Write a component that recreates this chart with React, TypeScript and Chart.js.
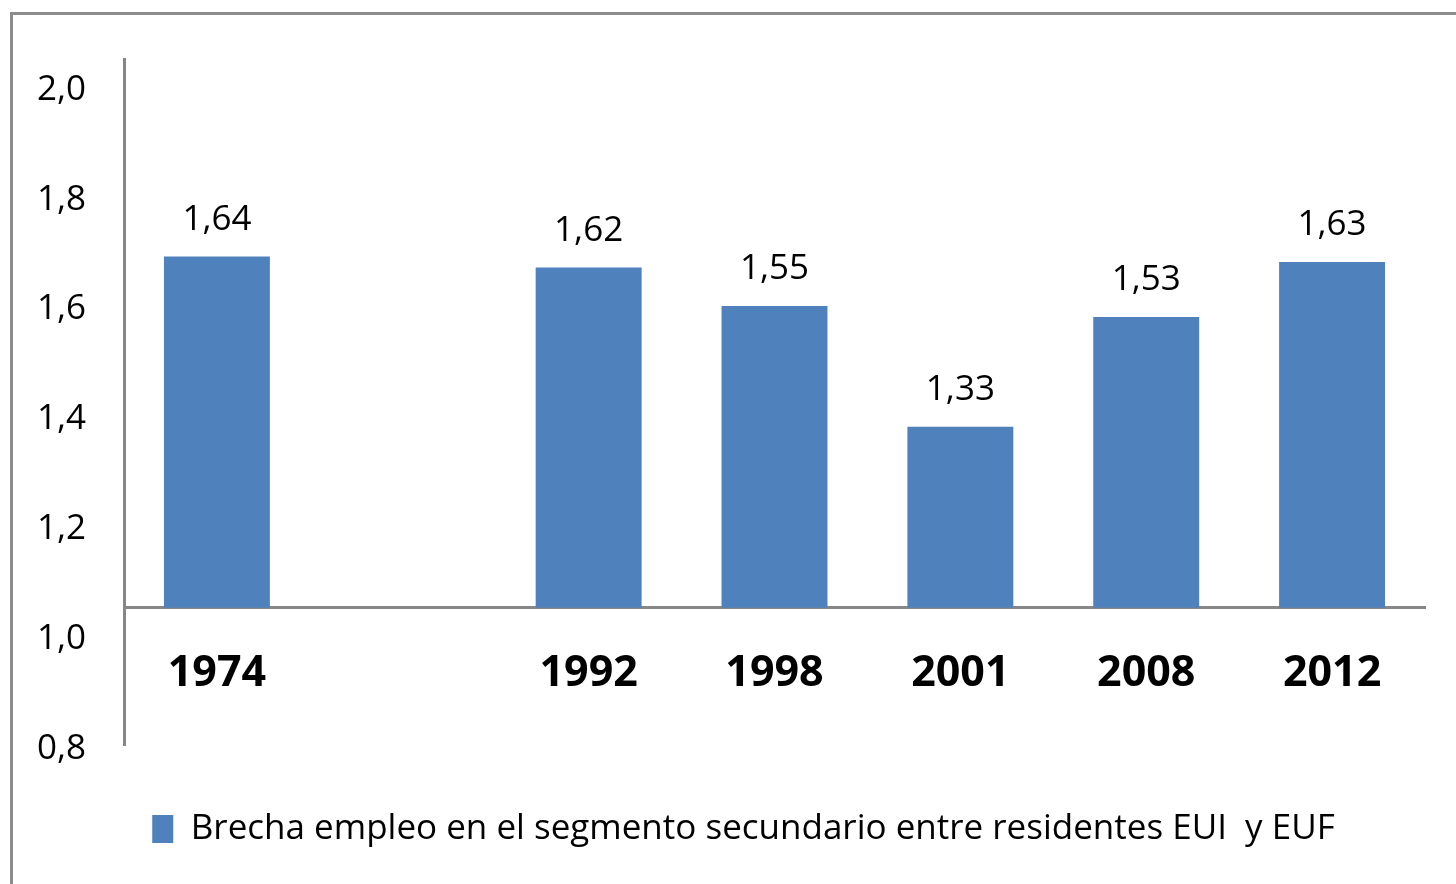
import React, { useEffect, useRef } from "react";
import { Chart, registerables } from "chart.js";

Chart.register(...registerables);

const categories = ["1974", "", "1992", "1998", "2001", "2008", "2012"];
const values = [1.64, null, 1.62, 1.55, 1.33, 1.53, 1.63];
const yTicks = [0.8, 1.0, 1.2, 1.4, 1.6, 1.8, 2.0];
const seriesLabel = "Brecha empleo en el segmento secundario entre residentes EUI  y EUF";
const baseValue = 1.0;
const yMin = 0.75;
const yMax = 2.0;

const FONT = "'Open Sans', 'Noto Sans', sans-serif";
const AXIS_GRAY = "#878787";
const BAR_BLUE = "#4F81BD";

const fmt = (v: number, d: number) => v.toFixed(d).replace(".", ",");

const outerBorder = {
  id: "outerBorder",
  beforeDraw(chart: any) {
    const ctx = chart.ctx;
    ctx.save();
    ctx.fillStyle = "#ffffff";
    ctx.fillRect(0, 0, chart.width, chart.height);
    ctx.strokeStyle = "#8c8c8c";
    ctx.lineWidth = 3;
    ctx.strokeRect(11.5, 13.5, chart.width + 20, chart.height + 20);
    ctx.restore();
  },
};

const dataLabels = {
  id: "dataLabels",
  afterDatasetsDraw(chart: any) {
    const ctx = chart.ctx;
    const meta = chart.getDatasetMeta(0);
    ctx.save();
    ctx.font = `35px ${FONT}`;
    ctx.fillStyle = "#000000";
    ctx.textAlign = "center";
    ctx.textBaseline = "alphabetic";
    meta.data.forEach((el: any, i: number) => {
      const v = values[i];
      if (v === null || v === undefined) return;
      ctx.fillText(fmt(v, 2), el.x, el.y - 27);
    });
    ctx.restore();
  },
};

export default function App() {
  const ref = useRef<HTMLCanvasElement>(null);

  useEffect(() => {
    if (!ref.current) return;
    const chart = new Chart(ref.current, {
      type: "bar",
      data: {
        labels: categories,
        datasets: [
          {
            label: seriesLabel,
            data: values as any,
            base: baseValue,
            backgroundColor: BAR_BLUE,
            borderWidth: 0,
            barPercentage: 0.57,
            categoryPercentage: 1,
          } as any,
        ],
      },
      options: {
        animation: false,
        responsive: false,
        maintainAspectRatio: false,
        events: [],
        layout: { padding: { left: 62, right: 31, top: 57, bottom: 27.5 } },
        plugins: {
          tooltip: { enabled: false },
          legend: {
            display: true,
            position: "bottom",
            labels: {
              boxWidth: 21,
              boxHeight: 28,
              padding: 66.5,
              color: "#000000",
              font: { family: FONT, size: 35 },
            },
          },
        },
        scales: {
          x: {
            position: { y: baseValue } as any,
            offset: true,
            grid: { display: false, drawTicks: false },
            border: { display: true, color: AXIS_GRAY, width: 3 },
            ticks: {
              color: "#000000",
              font: { family: FONT, size: 43, weight: "bold" },
              padding: 40,
              autoSkip: false,
              maxRotation: 0,
            },
          },
          y: {
            min: yMin,
            max: yMax,
            grid: { display: false, drawTicks: false },
            border: { display: true, color: AXIS_GRAY, width: 3 },
            afterFit: (scale: any) => {
              scale.width = 62;
              scale._computeLabelArea = () => undefined;
            },
            afterBuildTicks: (scale: any) => {
              scale.ticks = yTicks.map((v) => ({ value: v }));
            },
            ticks: {
              color: "#000000",
              font: { family: FONT, size: 35 },
              padding: 38,
              labelOffset: 31,
              callback: (v: any) => fmt(Number(v), 1),
            },
          },
        },
      },
      plugins: [outerBorder, dataLabels],
    });
    return () => chart.destroy();
  }, []);

  return (
    <div style={{ position: "fixed", left: 0, top: 0, width: 1456, height: 884, background: "#fff" }}>
      <canvas ref={ref} width={1456} height={884} style={{ display: "block", width: 1456, height: 884 }} />
    </div>
  );
}
